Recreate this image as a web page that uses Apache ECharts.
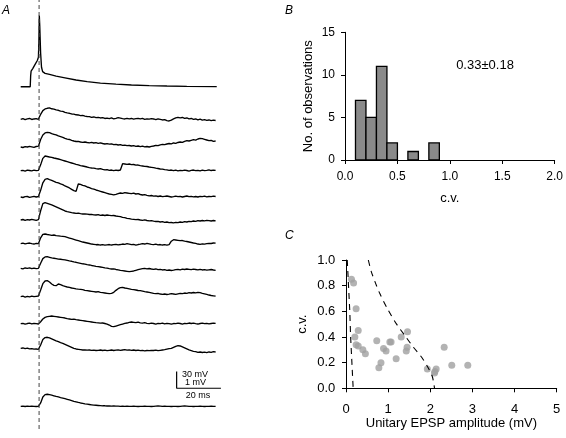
<!DOCTYPE html>
<html><head><meta charset="utf-8">
<script src="https://cdn.jsdelivr.net/npm/echarts@6.0.0/dist/echarts.min.js"></script>
<style>html,body{margin:0;padding:0;background:#fff}#c{width:566px;height:438px}</style>
</head><body><div id="c"></div>
<script>
// ---------- DATA ----------
const SAMPLE_MS = 1;          // sampling interval of the EPSP traces
const stimTimeMs = 8.3;       // time of presynaptic spike (dashed line)

// presynaptic action potential [time ms, mV rel. rest]
const apTrace = [[0,0],[4.3,0],[4.5,20],[4.7,28],[5.5,33],[6.5,40],[7.5,47],[8.0,53],[8.2,80],[8.4,128],[8.6,110],[9.0,60],[9.4,35],[9.9,27],[11,24],[13,22],[16,19],[20,16],[25,12],[30,9],[36,6.5],[43,4.5],[50,3],[58,2],[66,1.2],[75,0.6],[88.5,0]];

// single sweeps, mV rel. baseline, sampled every SAMPLE_MS
const trace1 = [0.00,0.04,-0.02,0.03,0.05,-0.01,0.02,0.04,0.00,0.30,
0.52,0.62,0.66,0.68,0.63,0.61,0.56,0.54,0.49,0.47,
0.41,0.38,0.36,0.32,0.31,0.27,0.26,0.22,0.23,0.19,
0.17,0.16,0.12,0.14,0.10,0.11,0.08,0.10,0.05,0.07,
0.04,0.08,0.03,0.06,0.10,0.07,0.04,0.02,0.06,0.03,
0.05,0.01,0.04,0.06,0.02,0.05,0.00,0.03,0.01,0.04,
0.02,-0.02,0.03,0.00,-0.04,-0.02,-0.08,-0.10,-0.05,0.02,
0.08,0.12,0.09,0.11,0.06,0.08,0.03,0.05,0.00,0.02,
-0.03,0.01,-0.05,-0.02,-0.06,-0.04,-0.08,-0.05,-0.07];
const trace2 = [0.00,-0.03,0.02,0.00,0.04,0.01,-0.02,0.03,0.05,0.45,
0.72,0.84,0.88,0.86,0.80,0.76,0.72,0.66,0.62,0.58,
0.52,0.47,0.45,0.40,0.36,0.33,0.34,0.30,0.28,0.30,
0.27,0.25,0.28,0.24,0.26,0.22,0.25,0.21,0.18,0.20,
0.17,0.19,0.14,0.16,0.12,0.14,0.10,0.11,0.08,0.09,
0.06,0.08,0.04,0.06,0.02,0.05,0.01,0.03,0.00,0.04,
0.06,0.10,0.08,0.13,0.16,0.14,0.18,0.21,0.19,0.24,
0.22,0.27,0.30,0.28,0.34,0.38,0.36,0.40,0.44,0.41,
0.48,0.52,0.50,0.46,0.42,0.38,0.40,0.34,0.36];
const trace3 = [0.00,0.02,-0.02,0.03,0.01,-0.01,0.03,0.00,0.02,0.35,
0.74,0.88,0.85,0.82,0.80,0.76,0.73,0.70,0.66,0.62,
0.58,0.54,0.50,0.46,0.42,0.38,0.35,0.30,0.28,0.25,
0.22,0.18,0.16,0.15,0.12,0.10,0.12,0.08,0.05,0.06,
0.02,0.04,0.00,0.03,0.01,0.04,0.42,0.40,0.38,0.40,
0.36,0.37,0.33,0.34,0.30,0.28,0.26,0.25,0.22,0.20,
0.18,0.15,0.13,0.10,0.09,0.06,0.05,0.02,0.04,0.00,
0.03,-0.01,0.02,0.00,0.03,0.01,-0.02,0.02,0.04,0.00,
0.02,-0.01,0.03,0.00,0.02,0.05,0.01,0.03,0.02];
const trace4 = [0.00,-0.03,0.02,0.03,-0.02,0.01,0.04,0.00,0.03,0.40,
0.85,1.06,1.10,1.04,1.00,0.94,0.88,0.84,0.78,0.74,
0.66,0.60,0.54,0.46,0.38,0.34,0.78,0.76,0.70,0.66,
0.60,0.56,0.50,0.47,0.42,0.38,0.34,0.30,0.26,0.22,
0.18,0.16,0.13,0.16,0.20,0.24,0.22,0.26,0.24,0.22,
0.20,0.23,0.18,0.20,0.15,0.12,0.14,0.10,0.07,0.09,
0.05,0.07,0.03,0.06,0.02,0.04,0.06,0.03,0.00,0.02,
0.05,0.02,0.04,0.00,0.03,0.06,0.02,0.04,0.01,0.03,
0.00,0.04,0.02,0.05,0.01,0.03,0.02,0.05,0.03];
const trace5 = [0.00,0.03,-0.02,0.02,0.00,0.04,0.01,-0.02,0.02,0.55,
0.98,1.04,1.00,0.95,0.90,0.84,0.78,0.72,0.66,0.60,
0.54,0.50,0.47,0.44,0.42,0.40,0.41,0.38,0.36,0.37,
0.35,0.33,0.34,0.31,0.30,0.32,0.28,0.30,0.27,0.30,
0.28,0.26,0.27,0.24,0.22,0.20,0.16,0.14,0.10,0.08,
0.05,0.04,0.02,0.03,0.00,-0.02,0.01,-0.03,-0.05,-0.04,
-0.07,-0.09,-0.08,-0.12,-0.10,-0.14,-0.12,-0.16,-0.15,-0.17,
-0.14,-0.16,-0.12,-0.14,-0.10,-0.12,-0.08,-0.10,-0.06,-0.08,
-0.04,-0.06,-0.03,-0.05,-0.02,-0.04,-0.06,-0.03,-0.05];
const trace6 = [0.00,0.03,-0.01,0.02,0.04,0.00,-0.02,0.02,0.00,0.35,
0.56,0.58,0.55,0.53,0.50,0.52,0.48,0.47,0.45,0.44,
0.42,0.38,0.34,0.30,0.26,0.22,0.18,0.14,0.10,0.07,
0.04,0.01,-0.02,-0.04,-0.06,-0.05,-0.08,-0.06,-0.09,-0.07,
-0.05,-0.08,-0.06,-0.04,-0.07,-0.05,-0.02,-0.04,0.00,-0.03,
-0.06,-0.04,-0.08,-0.05,-0.03,0.00,-0.02,0.02,-0.01,-0.04,
-0.06,-0.03,-0.07,-0.05,-0.08,-0.06,-0.09,-0.06,0.15,0.24,
0.22,0.20,0.18,0.19,0.15,0.13,0.10,0.07,0.04,0.02,
-0.02,-0.04,-0.01,-0.03,0.00,0.02,0.01,0.04,0.03];
const trace7 = [0.00,-0.03,0.02,0.00,0.03,-0.02,0.01,-0.02,0.00,0.30,
0.58,0.68,0.70,0.66,0.62,0.60,0.58,0.55,0.54,0.52,
0.50,0.47,0.44,0.42,0.38,0.36,0.33,0.30,0.27,0.25,
0.22,0.20,0.17,0.15,0.12,0.10,0.08,0.06,0.03,0.01,
-0.02,-0.04,-0.03,-0.07,-0.09,-0.12,-0.14,-0.16,-0.18,-0.20,
-0.18,-0.16,-0.12,-0.08,-0.05,-0.02,0.00,-0.03,-0.01,-0.04,
-0.06,-0.04,-0.08,-0.06,-0.10,-0.08,-0.12,-0.10,-0.13,-0.11,
-0.08,-0.06,-0.09,-0.05,-0.07,-0.04,-0.06,-0.08,-0.05,-0.07,
-0.09,-0.06,-0.10,-0.08,-0.11,-0.09,-0.07,-0.10,-0.12];
const trace8 = [0.00,0.03,-0.02,0.02,-0.01,0.03,0.00,0.02,0.04,0.40,
0.78,0.94,0.96,0.88,0.76,0.68,0.66,0.76,0.72,0.66,
0.62,0.58,0.56,0.52,0.50,0.47,0.45,0.44,0.42,0.38,
0.36,0.34,0.32,0.30,0.28,0.30,0.26,0.24,0.22,0.20,
0.18,0.20,0.26,0.38,0.48,0.54,0.56,0.52,0.50,0.47,
0.44,0.42,0.40,0.37,0.36,0.33,0.30,0.28,0.26,0.23,
0.20,0.18,0.20,0.16,0.14,0.16,0.13,0.15,0.18,0.16,
0.14,0.17,0.20,0.18,0.22,0.20,0.24,0.22,0.25,0.23,
0.26,0.24,0.20,0.17,0.14,0.10,0.07,0.05,0.03];
const trace9 = [0.00,0.02,-0.03,0.01,0.03,-0.01,0.02,0.00,-0.02,0.12,
0.28,0.38,0.42,0.44,0.46,0.44,0.42,0.40,0.38,0.36,
0.34,0.30,0.28,0.26,0.27,0.24,0.22,0.20,0.18,0.16,
0.14,0.12,0.10,0.08,0.06,0.05,0.03,0.04,0.01,-0.02,
-0.08,-0.16,-0.18,-0.14,-0.10,-0.06,-0.02,0.02,0.04,0.08,
0.10,0.08,0.06,0.09,0.05,0.03,0.06,0.02,0.00,0.03,
0.01,-0.02,0.02,0.00,0.03,-0.01,0.02,0.00,-0.03,0.01,
0.00,0.03,0.01,-0.02,0.02,0.00,0.04,0.01,0.03,0.00,
-0.02,0.01,0.03,0.00,0.02,-0.01,0.01,0.03,0.02];
const trace10 = [0.00,0.02,-0.02,0.01,-0.03,-0.02,-0.05,-0.04,-0.06,0.20,
0.52,0.64,0.66,0.62,0.56,0.50,0.44,0.40,0.34,0.30,
0.24,0.18,0.12,0.06,0.00,-0.04,-0.06,-0.08,-0.10,-0.09,
-0.11,-0.10,-0.12,-0.11,-0.13,-0.12,-0.10,-0.13,-0.11,-0.14,
-0.12,-0.10,-0.13,-0.11,-0.09,-0.12,-0.10,-0.08,-0.11,-0.09,
-0.12,-0.10,-0.13,-0.11,-0.14,-0.12,-0.15,-0.13,-0.14,-0.12,
-0.13,-0.11,-0.14,-0.12,-0.10,-0.08,-0.05,-0.02,0.00,0.06,
0.12,0.16,0.14,0.08,0.02,-0.04,-0.10,-0.14,-0.18,-0.20,
-0.24,-0.22,-0.25,-0.23,-0.26,-0.22,-0.24,-0.20,-0.22];
const avgTrace = [0.00,0.01,-0.01,0.01,0.00,0.01,0.00,-0.01,0.00,0.20,
0.56,0.70,0.72,0.70,0.67,0.63,0.59,0.56,0.52,0.49,
0.46,0.42,0.38,0.34,0.30,0.27,0.23,0.20,0.18,0.15,
0.13,0.11,0.09,0.07,0.06,0.05,0.04,0.03,0.03,0.02,
0.02,0.01,0.02,0.01,0.01,0.00,0.01,0.00,0.01,0.00,
0.00,0.01,0.00,-0.01,0.00,0.00,0.01,0.00,0.00,-0.01,
0.00,0.01,0.02,0.01,0.00,0.01,0.00,0.00,-0.01,0.00,
0.00,-0.01,0.00,0.01,0.02,0.01,0.00,0.00,-0.01,0.00,
0.00,0.01,0.00,-0.01,0.00,0.00,0.01,0.00,0.00];
const sweeps = [trace1,trace2,trace3,trace4,trace5,trace6,trace7,trace8,trace9,trace10];

// panel B histogram of c.v.
const cvBinLo = [0.1,0.2,0.3,0.4,0.5,0.6,0.7,0.8];
const cvBinWidth = 0.1;
const cvCounts = [7,5,11,2,0,1,0,2];
const cvSummary = '0.33±0.18';

// panel C scatter
const epspAmp = [0.13,0.18,0.24,0.29,0.21,0.24,0.29,0.40,0.46,0.73,0.78,0.83,0.89,0.95,1.04,1.07,1.19,1.31,1.46,1.45,1.43,1.93,2.10,2.14,2.11,2.33,2.51,2.89];
const epspCv  = [0.85,0.82,0.62,0.45,0.40,0.34,0.33,0.30,0.27,0.37,0.16,0.20,0.31,0.29,0.36,0.36,0.23,0.40,0.44,0.32,0.29,0.15,0.12,0.15,0.13,0.32,0.18,0.18];
const leftCurveAmp  = [0.03,0.06,0.09,0.11,0.14,0.17];
const leftCurveCv   = [1.00,0.80,0.60,0.40,0.20,0.00];
const rightCurveAmp = [0.53,0.60,0.70,0.80,1.00,1.20,1.40,1.60,1.80,1.95,2.05,2.10];
const rightCurveCv  = [1.00,0.91,0.82,0.74,0.61,0.50,0.41,0.32,0.24,0.16,0.09,0.00];

// ---------- LAYOUT ----------
const X0 = 20.7, PX_PER_MS = 2.215, PX_PER_MV = 16.7, TMAX = 92;
const AP_PX_PER_MV = 16.7 / 30;
const sweepBaseY = [119.3,147,170.7,197,220,243.7,268.3,296.7,323.7,348.3];
const avgBaseY = 406.3, apBaseY = 86.7;
const FONT = '"Liberation Sans", Arial, Helvetica, sans-serif';

const grids = [], xAxes = [], yAxes = [], series = [];
function addTraceGrid(baseY, lo, hi, pxPerUnit) {
  grids.push({left: X0, top: baseY - hi * pxPerUnit, width: TMAX * PX_PER_MS, height: (hi - lo) * pxPerUnit});
  const gi = grids.length - 1;
  xAxes.push({gridIndex: gi, type: 'value', min: 0, max: TMAX, show: false});
  yAxes.push({gridIndex: gi, type: 'value', min: lo, max: hi, show: false});
  return gi;
}
const traceLine = {color: '#000', width: 1.35};

let gi = addTraceGrid(apBaseY, -10, 135, AP_PX_PER_MV);
series.push({type: 'line', xAxisIndex: gi, yAxisIndex: gi, data: apTrace, showSymbol: false, lineStyle: traceLine, silent: true});

sweeps.forEach((tr, k) => {
  const g = addTraceGrid(sweepBaseY[k], -0.8, 1.4, PX_PER_MV);
  series.push({type: 'line', xAxisIndex: g, yAxisIndex: g, data: tr.map((v, i) => [i * SAMPLE_MS, v]), showSymbol: false, lineStyle: traceLine, silent: true});
});

gi = addTraceGrid(avgBaseY, -0.8, 2.4, PX_PER_MV);
series.push({type: 'line', xAxisIndex: gi, yAxisIndex: gi, data: avgTrace.map((v, i) => [i * SAMPLE_MS, v]), showSymbol: false, lineStyle: traceLine, silent: true});
// scale bar: 1 mV / 20 ms, drawn in average-trace coordinates
const sbT = 70.4, sbV = 1.08;
series.push({type: 'line', xAxisIndex: gi, yAxisIndex: gi, data: [[sbT, sbV + 1], [sbT, sbV], [sbT + 20, sbV]], showSymbol: false, lineStyle: {color: '#000', width: 1.2}, silent: true});

// stimulus dashed line grid
grids.push({left: X0, top: 0, width: TMAX * PX_PER_MS, height: 429});
gi = grids.length - 1;
xAxes.push({gridIndex: gi, type: 'value', min: 0, max: TMAX, show: false});
yAxes.push({gridIndex: gi, type: 'value', min: 0, max: 1, show: false});
series.push({type: 'line', xAxisIndex: gi, yAxisIndex: gi, data: [[stimTimeMs, 0], [stimTimeMs, 1]], showSymbol: false, lineStyle: {color: '#444', width: 1, type: [4, 3]}, silent: true});

const axisCommon = (fs) => ({
  axisLine: {show: true, lineStyle: {color: '#000', width: 1}},
  axisTick: {show: true, length: 4, lineStyle: {color: '#000', width: 1}},
  splitLine: {show: false},
  axisLabel: {color: '#000', fontFamily: FONT, fontSize: fs},
  nameTextStyle: {color: '#000', fontFamily: FONT, fontSize: 13},
  nameLocation: 'middle'
});

// panel B
grids.push({left: 345, top: 32.3, width: 211.7, height: 127.7});
const gB = grids.length - 1;
xAxes.push(Object.assign(axisCommon(12), {gridIndex: gB, type: 'value', min: 0, max: 2, interval: 0.5, offset: 2, name: 'c.v.', nameGap: 30,
  axisLabel: {color: '#000', fontFamily: FONT, fontSize: 12, margin: 9, formatter: v => v.toFixed(1)}}));
yAxes.push(Object.assign(axisCommon(12), {gridIndex: gB, type: 'value', min: 0, max: 15, interval: 5, offset: 2, name: 'No. of observations', nameGap: 28,
  axisLabel: {color: '#000', fontFamily: FONT, fontSize: 12, margin: 8}}));
series.push({
  type: 'custom', xAxisIndex: gB, yAxisIndex: gB, silent: true,
  data: cvBinLo.map((lo, i) => [lo, lo + cvBinWidth, cvCounts[i]]).filter(d => d[2] > 0),
  renderItem: (params, api) => {
    const p0 = api.coord([api.value(0), api.value(2)]);
    const p1 = api.coord([api.value(1), 0]);
    return {type: 'rect', shape: {x: p0[0], y: p0[1], width: p1[0] - p0[0], height: p1[1] - p0[1]},
      style: {fill: '#8a8a8a', stroke: '#000', lineWidth: 1.3}};
  }
});

// panel C
grids.push({left: 346, top: 260, width: 210.7, height: 128.3});
const gC = grids.length - 1;
xAxes.push(Object.assign(axisCommon(13), {gridIndex: gC, type: 'value', min: 0, max: 5, interval: 1, offset: 4, name: 'Unitary EPSP amplitude (mV)', nameGap: 23,
  axisLabel: {color: '#000', fontFamily: FONT, fontSize: 13, margin: 11}}));
yAxes.push(Object.assign(axisCommon(13), {gridIndex: gC, type: 'value', min: 0, max: 1, interval: 0.2, offset: 2.7, name: 'c.v.', nameGap: 34,
  axisLabel: {color: '#000', fontFamily: FONT, fontSize: 13, margin: 8, formatter: v => v.toFixed(1)}}));
series.push({type: 'line', xAxisIndex: gC, yAxisIndex: gC, data: leftCurveAmp.map((a, i) => [a, leftCurveCv[i]]), showSymbol: false, lineStyle: {color: '#000', width: 1.1, type: [6, 5]}, silent: true});
series.push({type: 'line', xAxisIndex: gC, yAxisIndex: gC, smooth: 0.3, data: rightCurveAmp.map((a, i) => [a, rightCurveCv[i]]), showSymbol: false, lineStyle: {color: '#000', width: 1.1, type: [6, 5]}, silent: true});
series.push({type: 'scatter', xAxisIndex: gC, yAxisIndex: gC, data: epspAmp.map((a, i) => [a, epspCv[i]]), symbolSize: 7, itemStyle: {color: '#a0a0a0'}, silent: true});

const txt = (x, y, s, fs, extra) => ({type: 'text', x, y, style: {text: s, fill: '#000', font: (extra && extra.italic ? 'italic ' : '') + fs + 'px ' + FONT, textAlign: (extra && extra.align) || 'left', textVerticalAlign: 'middle'}});

const chart = echarts.init(document.getElementById('c'), null, {renderer: 'canvas'});
chart.setOption({
  animation: false,
  grid: grids, xAxis: xAxes, yAxis: yAxes, series,
  graphic: [
    txt(2, 11, 'A', 12, {italic: true}),
    txt(285, 11, 'B', 12, {italic: true}),
    txt(285, 236, 'C', 12, {italic: true}),
    txt(485, 65, cvSummary, 13, {align: 'center'}),
    txt(195, 374.5, '30 mV', 9, {align: 'center'}),
    txt(195.5, 382.7, '1 mV', 9, {align: 'center'}),
    txt(198, 395.7, '20 ms', 9, {align: 'center'})
  ]
});
</script></body></html>
